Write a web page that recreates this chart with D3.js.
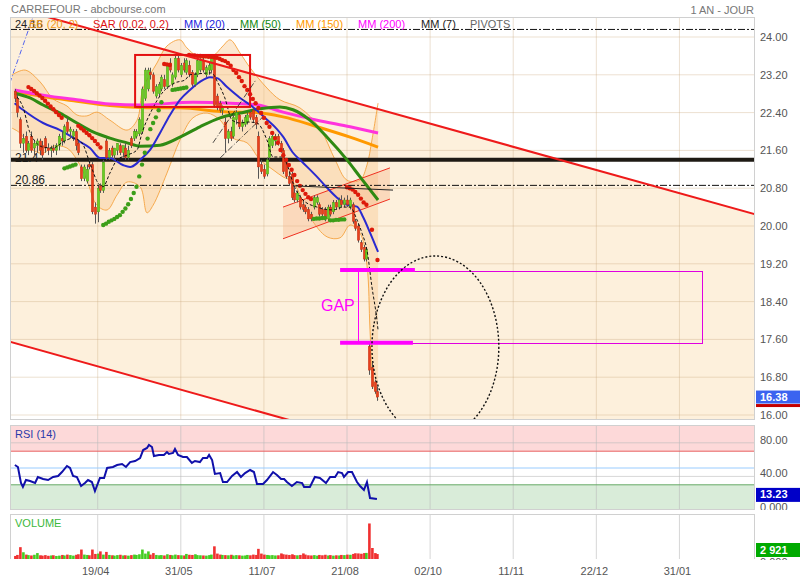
<!DOCTYPE html>
<html><head><meta charset="utf-8">
<script src="https://cdn.jsdelivr.net/npm/d3@7"></script>
<style>body{margin:0;background:#fff}svg{font-family:"Liberation Sans",Arial,sans-serif}</style>
</head><body><svg id="c" width="800" height="580"></svg>
<script>
// ---------- DATA ----------
const dateTicks = [30, 60, 90, 120, 150, 180, 210, 240];
const dateLabels = ["19/04", "31/05", "11/07", "21/08", "02/10", "11/11", "22/12", "31/01"];
const priceTicks = [16.00, 16.80, 17.60, 18.40, 19.20, 20.00, 20.80, 21.60, 22.40, 23.20, 24.00];
const rsiTicks = [80, 40, 0];
// [open, high, low, close] per trading day
const ohlc = [
[22.85,22.90,22.62,22.70],[22.70,22.78,22.30,22.40],[22.25,22.30,21.65,21.75],[21.75,21.95,21.55,21.85],[21.90,22.00,21.55,21.60],
[21.60,21.80,21.50,21.75],[21.90,22.00,21.55,21.60],[21.65,21.80,21.50,21.75],[21.70,21.85,21.55,21.80],[21.80,21.85,21.50,21.60],
[21.70,21.80,21.40,21.50],[21.85,21.90,21.55,21.65],[21.65,21.75,21.50,21.60],[21.60,21.70,21.45,21.65],[21.65,21.72,21.55,21.60],
[21.60,21.75,21.50,21.70],[21.70,21.95,21.60,21.90],[21.85,22.00,21.70,21.80],[21.80,22.15,21.75,22.10],[22.20,22.30,21.95,22.00],
[22.00,22.10,21.85,22.05],[21.90,22.05,21.80,22.00],[22.00,22.05,21.60,21.70],[21.75,21.80,21.50,21.55],[21.25,21.30,20.95,21.00],
[21.00,21.30,20.95,21.25],[20.95,21.30,20.90,21.20],[21.30,21.40,21.20,21.25],[21.30,21.35,20.25,20.30],[20.40,20.50,20.05,20.25],
[20.30,20.85,20.08,20.80],[20.85,20.90,20.70,20.75],[20.75,21.40,20.70,21.35],[21.80,21.85,21.40,21.45],[21.45,21.65,21.40,21.60],
[21.65,21.70,21.45,21.50],[21.50,21.65,21.40,21.65],[21.60,21.75,21.50,21.75],[21.70,21.75,21.50,21.55],[21.55,21.70,21.45,21.70],
[21.65,21.75,21.40,21.45],[21.45,21.70,21.40,21.60],[21.85,21.90,21.65,21.70],[21.85,22.05,21.80,22.00],[21.90,22.05,21.85,22.00],
[21.95,22.30,21.90,22.25],[22.00,22.95,21.95,22.90],[22.70,23.35,22.65,23.30],[22.90,23.35,22.85,23.30],[23.25,23.35,23.10,23.20],
[23.20,23.25,22.80,22.85],[22.75,23.00,22.70,22.95],[22.80,23.05,22.75,23.00],[22.90,23.20,22.85,23.15],[23.10,23.20,22.90,22.95],
[22.95,23.45,22.90,23.40],[23.45,23.55,23.25,23.30],[23.00,23.25,22.95,23.20],[23.15,23.60,23.10,23.55],[23.55,23.60,23.25,23.30],
[23.20,23.45,23.15,23.40],[23.45,23.55,23.25,23.30],[23.25,23.55,23.20,23.50],[23.40,23.50,23.15,23.20],[23.25,23.30,22.95,23.00],
[23.00,23.25,22.95,23.20],[23.20,23.55,23.15,23.50],[23.30,23.55,23.25,23.50],[23.50,23.58,23.25,23.30],[23.20,23.40,23.15,23.35],
[23.30,23.45,23.20,23.40],[23.30,23.58,23.25,23.55],[23.55,23.60,22.50,22.55],[22.75,22.80,22.45,22.50],[22.60,22.65,22.40,22.45],
[22.45,22.55,22.35,22.50],[22.20,22.30,21.55,21.85],[21.85,22.05,21.75,22.00],[22.00,22.10,21.80,21.85],[21.90,22.35,21.85,22.30],
[22.25,22.45,22.15,22.40],[22.35,22.40,22.05,22.10],[22.10,22.25,22.00,22.20],[22.15,22.35,22.10,22.30],[22.20,22.40,22.15,22.35],
[22.40,22.45,22.25,22.30],[22.45,22.50,22.20,22.25],[22.30,22.35,22.05,22.15],[21.90,22.00,21.00,21.25],[21.30,21.40,21.10,21.15],
[21.20,21.30,21.00,21.05],[21.10,21.45,21.05,21.40],[21.45,21.90,21.40,21.85],[21.70,21.95,21.65,21.90],[21.80,21.95,21.70,21.90],
[21.90,21.95,21.70,21.75],[21.75,21.80,21.55,21.60],[21.60,21.65,21.10,21.15],[21.35,21.40,21.00,21.05],[21.05,21.15,20.85,20.90],
[21.10,21.15,20.55,20.60],[20.70,20.80,20.50,20.55],[20.55,20.75,20.50,20.70],[20.60,20.65,20.35,20.40],[20.45,20.55,20.30,20.35],
[20.40,20.45,20.25,20.30],[20.35,20.40,20.10,20.15],[20.25,20.30,20.10,20.15],[20.40,20.65,20.35,20.60],[20.50,20.65,20.45,20.60],
[20.45,20.50,20.20,20.25],[20.35,20.40,20.20,20.25],[20.35,20.40,20.10,20.15],[20.15,20.45,20.10,20.40],[20.40,20.45,20.20,20.25],
[20.30,20.55,20.25,20.50],[20.50,20.55,20.35,20.40],[20.40,20.60,20.35,20.55],[20.55,20.65,20.40,20.45],[20.45,20.60,20.40,20.55],
[20.55,20.65,20.40,20.45],[20.40,20.60,20.35,20.55],[20.45,20.50,20.05,20.10],[20.10,20.15,19.90,19.95],[20.00,20.05,19.65,19.70],
[19.65,19.70,19.45,19.50],[19.55,19.60,19.25,19.30],[19.30,19.55,19.25,19.50],[17.45,17.55,16.85,16.95],[17.00,17.10,16.55,16.60],
[16.70,16.75,16.45,16.50],[16.50,16.60,16.30,16.38]
];
const volumes = [
1800,2400,7000,4000,2600,2300,2100,2500,3500,2200,
2000,2300,1900,2100,2200,1800,2000,2400,2100,2600,
2300,2000,2500,2800,5600,2600,2400,2200,5600,3000,
3200,4500,2600,4200,2400,2200,2000,2300,2500,2100,
2200,2000,2300,2600,2400,2800,5600,3200,4500,2600,
3500,2400,2200,2300,2100,2800,2400,2200,2600,2300,
2200,2100,3000,2500,2400,2800,2300,2200,2100,2000,
2300,2600,7500,3200,2600,2400,2300,2200,2500,2100,
2300,2200,2000,2100,2400,2200,2600,2400,6000,3200,
2600,2400,2200,2300,2100,2200,3300,2800,2600,2400,
2800,2300,2200,2400,3300,2600,2200,2100,2300,2000,
2400,2200,2500,2100,2300,2000,2200,2100,2400,2300,
2600,2500,3000,3400,3300,3100,3500,3600,21000,6500,3500,2921
];
// indicators: [day index, value]
const mm20 = [[0,22.60],[3,22.46],[10.3,22.18],[16.4,22.03],[22.5,21.82],[27.2,21.65],[30.8,21.44],[34.4,21.44],[39.1,21.29],[41.7,21.25],[44,21.32],[45.3,21.40],[48.9,21.61],[52.5,21.97],[56.1,22.35],[59.7,22.67],[63.3,22.88],[66.9,23.05],[70.5,23.15],[73.1,23.13],[76.7,22.94],[81.4,22.71],[86,22.52],[91.1,22.25],[94.7,22.05],[96.9,21.89],[100.5,21.55],[104.1,21.34],[109.2,21.04],[112.8,20.81],[116.4,20.60],[120,20.45],[123.6,20.41],[125.8,20.19],[128.3,19.86],[131.2,19.45]];
const mm50 = [[0,22.81],[5.6,22.71],[10.3,22.56],[16.4,22.39],[22.5,22.18],[28.3,21.99],[34.4,21.86],[40.6,21.76],[45.3,21.69],[52.5,21.71],[59.7,21.88],[66.9,22.10],[74.2,22.29],[81.4,22.39],[88.6,22.48],[95.8,22.52],[100.5,22.46],[106.6,22.24],[112.8,21.88],[120,21.40],[124.7,21.04],[131.2,20.55]];
const mm150 = [[0,22.85],[10.3,22.74],[22.5,22.64],[34.4,22.55],[45.3,22.51],[59.7,22.50],[78.8,22.41],[85,22.41],[96.9,22.31],[109.2,22.10],[121.1,21.88],[131.2,21.67]];
const mm200 = [[0,22.88],[10.3,22.77],[22.5,22.67],[34.4,22.58],[45.3,22.56],[64.4,22.62],[77.8,22.60],[87.9,22.56],[96.9,22.41],[109.2,22.24],[121.1,22.10],[131.2,21.97]];
const mm7 = [[0.9,22.73],[3,22.52],[5.6,21.97],[10.3,21.67],[13.9,21.65],[17.5,21.78],[21.1,21.86],[24.3,21.76],[27.2,21.33],[30.1,20.91],[31.9,20.83],[34.4,21.12],[37,21.40],[40.6,21.50],[44.2,21.61],[46,21.97],[49.6,22.46],[53.2,22.81],[57.9,23.03],[61.5,23.09],[63.3,23.20],[66.2,23.22],[71.1,23.24],[73.4,23.03],[75.9,22.71],[78.5,22.24],[81.4,22.18],[84.3,22.20],[87.5,22.18],[91.1,21.82],[93.3,21.46],[96.9,21.46],[98.7,21.25],[100.5,20.91],[104.1,20.55],[109.2,20.40],[115,20.34],[118.6,20.40],[121.1,20.40],[123.6,20.13],[125.4,19.85],[127.2,19.49],[129,18.71],[130.8,18.01],[131.2,17.80]];
const bbUpper = [[-0.9,23.20],[3.8,23.30],[9.2,23.05],[13.9,22.69],[18.9,22.54],[22.5,22.35],[26.1,22.33],[29.7,22.41],[34.4,22.24],[40.6,22.03],[44.2,22.24],[46.4,22.92],[51.4,23.45],[55,23.81],[59.7,23.94],[62.2,23.77],[66.9,23.56],[71.6,23.60],[75.2,23.81],[77.8,23.94],[81.4,23.66],[85,23.35],[91.1,22.92],[95.8,22.67],[103,22.50],[110.2,22.07],[115.7,21.40],[120,20.97],[124.7,20.97],[127.2,21.29],[129,21.82],[131.2,22.60]];
const bbLower = [[-0.9,22.07],[1.9,21.97],[6.6,21.61],[10.3,21.54],[13.9,21.69],[18.9,21.65],[22.5,21.40],[26.1,20.97],[29.7,20.44],[33.4,20.34],[37,20.66],[40.6,20.93],[45.3,20.83],[47.8,20.28],[50,20.44],[55,21.12],[59.7,21.82],[64.4,22.29],[69.5,22.39],[74.2,22.24],[78.8,21.86],[83.9,21.76],[88.6,21.40],[93.3,21.19],[96.9,21.04],[100.5,20.93],[106.6,20.19],[112.8,19.77],[117.5,19.75],[121.1,20.02],[124.7,19.85],[127.2,19.17],[128.3,17.80],[129.4,16.68],[131.2,16.32]];
const sarRed = [[5,22.94],[6,22.90],[7,22.86],[8,22.81],[9,22.76],[10,22.71],[11,22.65],[12,22.59],[13,22.53],[14,22.47],[15,22.41],[16,22.35],[17,22.29],
[23,22.12],[24,22.07],[25,22.02],[26,21.97],[27,21.92],[28,21.86],[29,21.80],[30,21.73],[31,21.66],
[54,23.43],[55,23.42],[56,23.41],
[63,23.62],[64,23.61],[65,23.61],[66,23.60],[67,23.60],[68,23.59],[69,23.59],[70,23.58],[71,23.58],[72,23.57],[73,23.56],[74,23.54],[75,23.51],[76,23.49],[77,23.45],[78,23.39],[79,23.30],[80,23.24],[81,23.15],[82,23.07],[83,22.96],[84,22.88],[85,22.79],[86,22.69],[87,22.60],[88,22.50],[89,22.39],[90,22.29],[91,22.18],[92,22.10],[93,21.97],[94,21.86],[95,21.76],[96,21.61],[97,21.50],[98,21.40],[99,21.29],[100,21.19],[101,21.08],[102,20.95],[103,20.85],[104,20.76],[105,20.68],[106,20.61],[107,20.57],
[120,20.82],[121,20.80],[122,20.77],[123,20.72],[124,20.66],[125,20.58],[126,20.50],[127,20.45],[129,19.92],[131,19.28]];
const sarGreen = [[18,21.22],[19,21.24],[20,21.26],[21,21.28],[22,21.30],
[32,20.02],[33,20.05],[34,20.09],[35,20.12],[36,20.15],[37,20.19],[38,20.23],[39,20.30],[40,20.37],[41,20.46],[42,20.57],[43,20.70],[44,20.83],[45,21.05],[46,21.30],[47,21.55],[48,21.85],[49,22.05],[50,22.18],[51,22.30],[52,22.45],[53,22.62],
[57,22.88],[58,22.89],[59,22.90],[60,22.91],[61,22.92],[62,22.93],
[108,20.15],[109,20.16],[110,20.16],[111,20.17],[112,20.17],[114,20.12],[115,20.12],[116,20.13],[117,20.13],[118,20.14],[119,20.14]];
const rsi = [[0.1,53.6],[1.2,51.2],[2.3,32.1],[3,27.4],[4.1,35.7],[5.6,34.5],[7.4,32.1],[8.4,39.3],[10.3,36.9],[12.1,35.7],[13.9,39.3],[15.7,40.5],[17.1,45.2],[18.9,52.4],[20,50.0],[21.1,40.5],[22.5,39.3],[24,28.6],[25.4,32.1],[26.5,35.7],[27.9,33.3],[29,22.6],[30.8,38.1],[32.3,38.1],[33.4,50.0],[35.5,51.2],[37,53.6],[38.8,54.8],[40.2,51.2],[41.7,57.1],[43.5,58.3],[45.3,61.9],[46.4,71.4],[47.8,73.8],[48.5,77.4],[49.6,75.0],[50.3,64.3],[52.1,65.5],[53.9,65.5],[55,69.0],[55.7,66.7],[57.2,67.9],[57.9,72.6],[59,65.5],[60.8,63.1],[62.2,63.1],[64,56.0],[65.1,58.3],[66.9,57.1],[68,61.9],[69.5,61.9],[70.2,65.5],[71.3,59.5],[72.3,42.9],[74.2,44.0],[75.2,33.3],[76.7,33.3],[78.5,40.5],[80.3,45.2],[81.7,39.3],[83.2,44.0],[85,47.6],[86.4,45.2],[87.5,31.0],[89.7,31.0],[91.1,35.7],[93.3,45.2],[94.7,41.7],[96.2,36.9],[97.3,36.9],[98.3,33.3],[100.1,28.6],[101.9,33.3],[103.8,32.1],[104.5,27.4],[106.6,27.4],[108.4,39.3],[110.2,38.1],[112.4,32.1],[113.9,39.3],[115.7,39.3],[116.8,45.2],[118.2,44.0],[118.9,39.3],[120.4,45.2],[121.8,45.2],[123.6,33.3],[124.7,28.6],[126.1,23.8],[127.2,33.3],[128.3,14.3],[130.8,13.23]];
// drawing annotations in data units [day index, price]
const pivots = [24.16, 21.4, 20.86];
const channelUpper = [[12.06, 24.42], [267.3, 20.25]];
const channelLower = [[-1.66, 17.55], [99.4, 15.89]];
const redBox = [[43.5, 23.62], [85, 22.52]];
const flagUpper = [[96.9, 20.40], [135.5, 21.23]];
const flagLower = [[96.9, 19.73], [135.5, 20.57]];
const thinBlack = [[100.5, 20.85], [136.6, 20.76]];
const diagA = [[71.6, 21.76], [87.1, 23.09]];
const diagB = [[74.2, 21.44], [89.3, 22.29]];
const blueDiag = [[-1.7, 23.03], [6.6, 24.42]];
const gapTop = 19.07, gapBottom = 17.53;
const gapBars = [[117.5, 144.5], [117.5, 143.8]];
const gapRect = [[124, 19.05], [248.2, 17.53]];
const ellipse = {i: 151.9, p: 17.44, ri: 22.9, rp: 1.926};
const lastPrice = 16.38, lastRsi = 13.23, lastVol = "2 921";

// ---------- SCALES ----------
const svg = d3.select("#c");
const mainP = {l:10, r:755, t:17, b:420};
const rsiP = {l:10, r:755, t:425, b:510};
const volP = {l:10, r:755, t:514, b:559};
const x = d3.scaleLinear().domain([0, 268]).range([14.6, 757]);
const y = d3.scaleLinear().domain([16, 24]).range([415, 37]);
const yR = d3.scaleLinear().domain([0, 100]).range([510, 426]);
const yV = d3.scaleLinear().domain([0, 26000]).range([559, 515]);

const defs = svg.append("defs");
function clip(id, p){ defs.append("clipPath").attr("id", id).append("rect").attr("x", p.l).attr("y", p.t).attr("width", p.r-p.l).attr("height", p.b-p.t); }
clip("cm", mainP); clip("cr", rsiP); clip("cv", volP);
clip("am", {l:756, r:800, t:17, b:420}); clip("ar", {l:756, r:800, t:425, b:510}); clip("av", {l:756, r:800, t:514, b:560});

function txt(g, s, px, py, col, size, anchor, weight){
  return g.append("text").attr("x", px).attr("y", py).text(s).attr("fill", col).attr("font-size", size||11)
   .attr("text-anchor", anchor||"start").attr("font-weight", weight||"normal");
}

// titles
txt(svg, "CARREFOUR - abcbourse.com", 11, 13, "#777", 11);
txt(svg, "1 AN - JOUR", 754, 14, "#777", 11, "end");

// ---------- MAIN PANEL ----------
const gm = svg.append("g").attr("clip-path", "url(#cm)");
gm.append("rect").attr("x", mainP.l).attr("y", mainP.t).attr("width", mainP.r-mainP.l).attr("height", mainP.b-mainP.t).attr("fill", "#fff");
function lineAt(seg, i){ const [a,b]=seg; return a[1] + (b[1]-a[1])*(i-a[0])/(b[0]-a[0]); }
const chan = [[-10, lineAt(channelUpper,-10)], [280, lineAt(channelUpper,280)], [280, lineAt(channelLower,280)], [-10, lineAt(channelLower,-10)]];
gm.append("path").attr("d", "M" + chan.map(d=>x(d[0])+","+y(d[1])).join("L") + "Z").attr("fill", "#fdf0dc");
// grid
priceTicks.forEach(t => gm.append("line").attr("x1", mainP.l).attr("x2", mainP.r).attr("y1", y(t)).attr("y2", y(t)).attr("stroke", "#c9a57a").attr("stroke-opacity", 0.35));
dateTicks.forEach(t => gm.append("line").attr("x1", x(t)).attr("x2", x(t)).attr("y1", mainP.t).attr("y2", mainP.b).attr("stroke", "#c9a57a").attr("stroke-opacity", 0.35));

// Bollinger band
const cr = d3.line().x(d=>x(d[0])).y(d=>y(d[1])).curve(d3.curveCatmullRom.alpha(0.5));
const upPath = cr(bbUpper), loPath = cr(bbLower.slice().reverse());
gm.append("path").attr("d", upPath + "L" + loPath.slice(1) + "Z").attr("fill", "#f8c890").attr("fill-opacity", 0.42);
gm.append("path").attr("d", upPath).attr("fill", "none").attr("stroke", "#f5a340").attr("stroke-width", 0.9);
gm.append("path").attr("d", cr(bbLower)).attr("fill", "none").attr("stroke", "#f5a340").attr("stroke-width", 0.9);

// flag (parallel channel)
const seg = s => "M" + x(s[0][0]) + "," + y(s[0][1]) + "L" + x(s[1][0]) + "," + y(s[1][1]);
gm.append("path").attr("d", "M" + [flagUpper[0], flagUpper[1], flagLower[1], flagLower[0]].map(d=>x(d[0])+","+y(d[1])).join("L") + "Z").attr("fill", "#f5b080").attr("fill-opacity", 0.35);
gm.append("path").attr("d", seg(flagUpper)).attr("stroke", "#f03020").attr("stroke-width", 1).attr("fill", "none");
gm.append("path").attr("d", seg(flagLower)).attr("stroke", "#f03020").attr("stroke-width", 1).attr("fill", "none");

// pivot labels and lines
txt(gm, "21.4", 15, 162, "#222", 12);
txt(gm, "20.86", 15, 184, "#222", 12);
gm.append("line").attr("x1", mainP.l).attr("x2", mainP.r).attr("y1", y(pivots[1])).attr("y2", y(pivots[1])).attr("stroke", "#1e1a14").attr("stroke-width", 4);
[pivots[0], pivots[2]].forEach(p => gm.append("line").attr("x1", mainP.l).attr("x2", mainP.r).attr("y1", y(p)).attr("y2", y(p)).attr("stroke", "#111").attr("stroke-width", 1).attr("stroke-dasharray", "7,2,2,2"));

// moving averages
const ml = d3.line().x(d=>x(d[0])).y(d=>y(d[1])).curve(d3.curveMonotoneX);
gm.append("path").attr("d", ml(mm150)).attr("fill", "none").attr("stroke", "#ff9900").attr("stroke-width", 3);
gm.append("path").attr("d", ml(mm200)).attr("fill", "none").attr("stroke", "#ff33dd").attr("stroke-width", 3);
gm.append("path").attr("d", ml(mm50)).attr("fill", "none").attr("stroke", "#2f8a12").attr("stroke-width", 3);
gm.append("path").attr("d", ml(mm20)).attr("fill", "none").attr("stroke", "#2a2ad0").attr("stroke-width", 2);

// candles
const up = d => d[3] >= d[0];
const cg = gm.append("g");
ohlc.forEach((d, i) => {
  const cx = Math.round(x(i)) + 0.5;
  cg.append("line").attr("x1", cx).attr("x2", cx).attr("y1", y(d[1])).attr("y2", y(d[2])).attr("stroke", "#555").attr("stroke-width", 1);
  const top = y(Math.max(d[0], d[3])), bot = y(Math.min(d[0], d[3]));
  cg.append("rect").attr("x", cx - 1.2).attr("y", top).attr("width", 2.4).attr("height", Math.max(1, bot - top))
    .attr("fill", up(d) ? "#6ccc22" : "#e8401c").attr("stroke", up(d) ? "#3f9a10" : "#b82a10").attr("stroke-width", 0.4);
});

// MM7
gm.append("path").attr("d", ml(mm7)).attr("fill", "none").attr("stroke", "#111").attr("stroke-width", 1).attr("stroke-dasharray", "3,2");

// SAR
sarRed.forEach(d => gm.append("circle").attr("cx", x(d[0])).attr("cy", y(d[1])).attr("r", 2.2).attr("fill", "#dd1a0a"));
sarGreen.forEach(d => gm.append("circle").attr("cx", x(d[0])).attr("cy", y(d[1])).attr("r", 2.2).attr("fill", "#3c9e18"));

// annotations
gm.append("path").attr("d", seg([[-10, lineAt(channelUpper,-10)], [280, lineAt(channelUpper,280)]])).attr("stroke", "#ee1a1a").attr("stroke-width", 2).attr("fill", "none");
gm.append("path").attr("d", seg([[-10, lineAt(channelLower,-10)], [280, lineAt(channelLower,280)]])).attr("stroke", "#ee1a1a").attr("stroke-width", 2).attr("fill", "none");
gm.append("rect").attr("x", x(redBox[0][0])).attr("y", y(redBox[0][1])).attr("width", x(redBox[1][0]) - x(redBox[0][0])).attr("height", y(redBox[1][1]) - y(redBox[0][1]))
  .attr("fill", "none").attr("stroke", "#e31010").attr("stroke-width", 2);
gm.append("path").attr("d", seg(thinBlack)).attr("stroke", "#222").attr("stroke-width", 1);
gm.append("path").attr("d", seg(diagA)).attr("stroke", "#222").attr("stroke-width", 0.8).attr("stroke-dasharray", "6,2,1,2");
gm.append("path").attr("d", seg(diagB)).attr("stroke", "#222").attr("stroke-width", 0.8).attr("stroke-dasharray", "6,2,1,2");
gm.append("path").attr("d", seg(blueDiag)).attr("stroke", "#5566ee").attr("stroke-width", 1).attr("stroke-dasharray", "5,2,1,2");
// gap
const rx0 = Math.round(x(gapRect[0][0])) + 0.5, ry0 = Math.round(y(gapRect[0][1])) + 0.5;
const rx1 = Math.round(x(gapRect[1][0])) + 0.5, ry1 = Math.round(y(gapRect[1][1])) + 0.5;
gm.append("rect").attr("x", rx0).attr("y", ry0).attr("width", rx1 - rx0).attr("height", ry1 - ry0)
  .attr("fill", "none").attr("stroke", "#e000e0").attr("stroke-width", 1);
gm.append("line").attr("x1", x(gapBars[0][0])).attr("x2", x(gapBars[0][1])).attr("y1", y(gapTop)).attr("y2", y(gapTop)).attr("stroke", "#ff00ff").attr("stroke-width", 4);
gm.append("line").attr("x1", x(gapBars[1][0])).attr("x2", x(gapBars[1][1])).attr("y1", y(gapBottom)).attr("y2", y(gapBottom)).attr("stroke", "#ff00ff").attr("stroke-width", 4);
gm.append("line").attr("x1", rx0).attr("x2", rx0).attr("y1", y(gapTop)).attr("y2", y(gapBottom)).attr("stroke", "#ff00ff").attr("stroke-width", 1);
txt(gm, "GAP", x(110.6), y(18.2), "#ff00ff", 16);
gm.append("ellipse").attr("cx", x(ellipse.i)).attr("cy", y(ellipse.p)).attr("rx", x(ellipse.i + ellipse.ri) - x(ellipse.i)).attr("ry", y(ellipse.p) - y(ellipse.p + ellipse.rp))
  .attr("fill", "none").attr("stroke", "#111").attr("stroke-width", 1.4).attr("stroke-dasharray", "2,2");

// legend (the first pivot label sits under the Bollinger legend, as in the source chart)
const legend = [["BB (20, 2)", "#f29a1a", 29], ["SAR (0.02, 0.2)", "#dd1111", 93], ["MM (20)", "#2222dd", 184], ["MM (50)", "#118811", 240],
  ["MM (150)", "#ff9900", 296], ["MM (200)", "#ff00ff", 358], ["MM (7)", "#222", 421], ["PIVOTS", "#666", 470]];
txt(gm, "24.16", 15, 28, "#222", 11);
legend.forEach(l => txt(gm, l[0], l[2], 28, l[1], 11));

gm.append("rect").attr("x", mainP.l+0.5).attr("y", mainP.t+0.5).attr("width", mainP.r-mainP.l-1).attr("height", mainP.b-mainP.t-1).attr("fill", "none").attr("stroke", "#d0d0d0");

// right axis main
const am = svg.append("g").attr("clip-path", "url(#am)");
priceTicks.forEach(t => txt(am, t.toFixed(2), 760, y(t) + 4, "#555", 11));
am.append("rect").attr("x", 756).attr("y", y(lastPrice) - 6.5).attr("width", 44).attr("height", 13).attr("fill", "#3b63f0");
am.append("rect").attr("x", 756).attr("y", y(lastPrice) + 7).attr("width", 44).attr("height", 3).attr("fill", "#c40000");
txt(am, lastPrice.toFixed(2), 760, y(lastPrice) + 4, "#fff", 11, "start", "bold");

// ---------- RSI PANEL ----------
const gr = svg.append("g").attr("clip-path", "url(#cr)");
gr.append("rect").attr("x", rsiP.l).attr("y", yR(100)-1).attr("width", rsiP.r-rsiP.l).attr("height", yR(70) - yR(100) + 1).attr("fill", "#fdd9d9");
gr.append("rect").attr("x", rsiP.l).attr("y", yR(30)).attr("width", rsiP.r-rsiP.l).attr("height", yR(0) - yR(30)).attr("fill", "#d9ecd9");
[80, 40].forEach(t => gr.append("line").attr("x1", rsiP.l).attr("x2", rsiP.r).attr("y1", yR(t)).attr("y2", yR(t)).attr("stroke", "#bbb").attr("stroke-opacity", 0.6));
dateTicks.forEach(t => gr.append("line").attr("x1", x(t)).attr("x2", x(t)).attr("y1", rsiP.t).attr("y2", rsiP.b).attr("stroke", "#bbb").attr("stroke-opacity", 0.6));
gr.append("line").attr("x1", rsiP.l).attr("x2", rsiP.r).attr("y1", yR(70)).attr("y2", yR(70)).attr("stroke", "#e86060");
gr.append("line").attr("x1", rsiP.l).attr("x2", rsiP.r).attr("y1", yR(50)).attr("y2", yR(50)).attr("stroke", "#99ccff");
gr.append("line").attr("x1", rsiP.l).attr("x2", rsiP.r).attr("y1", yR(30)).attr("y2", yR(30)).attr("stroke", "#66aa66");
gr.append("path").attr("d", d3.line().x(d=>x(d[0])).y(d=>yR(d[1]))(rsi)).attr("fill", "none").attr("stroke", "#1010aa").attr("stroke-width", 2);
txt(gr, "RSI (14)", 15, 438, "#2a3aaa", 11);
gr.append("rect").attr("x", rsiP.l+0.5).attr("y", rsiP.t+0.5).attr("width", rsiP.r-rsiP.l-1).attr("height", rsiP.b-rsiP.t-1).attr("fill", "none").attr("stroke", "#d0d0d0");
const ar = svg.append("g").attr("clip-path", "url(#ar)");
rsiTicks.forEach(t => txt(ar, t === 0 ? "0.000" : t.toFixed(2), 760, yR(t) + 1, "#555", 11));
ar.append("rect").attr("x", 756).attr("y", yR(lastRsi) - 11).attr("width", 44).attr("height", 14).attr("fill", "#0000c8");
txt(ar, lastRsi.toFixed(2), 760, yR(lastRsi) - 0.5, "#fff", 11, "start", "bold");

// ---------- VOLUME PANEL ----------
const gv = svg.append("g").attr("clip-path", "url(#cv)");
dateTicks.forEach(t => gv.append("line").attr("x1", x(t)).attr("x2", x(t)).attr("y1", volP.t).attr("y2", volP.b).attr("stroke", "#bbb").attr("stroke-opacity", 0.6));
volumes.forEach((v, i) => {
  gv.append("rect").attr("x", Math.round(x(i)) - 0.9).attr("y", yV(v)).attr("width", 2.6).attr("height", yV(0) - yV(v))
    .attr("fill", up(ohlc[i]) ? "#44cc22" : "#f03030");
});
txt(gv, "VOLUME", 15, 527, "#3cb83c", 11);
gv.append("rect").attr("x", volP.l+0.5).attr("y", volP.t+0.5).attr("width", volP.r-volP.l-1).attr("height", volP.b-volP.t).attr("fill", "none").attr("stroke", "#d0d0d0");
const av = svg.append("g").attr("clip-path", "url(#av)");
txt(av, "0.000", 760, 566, "#555", 11);
av.append("rect").attr("x", 756).attr("y", 543).attr("width", 44).attr("height", 14).attr("fill", "#00aa00");
txt(av, lastVol, 760, 554, "#fff", 11, "start", "bold");

// x axis labels
dateTicks.forEach((t, k) => txt(svg, dateLabels[k], x(t) - 2, 575, "#555", 11, "middle"));
</script>
</body></html>
